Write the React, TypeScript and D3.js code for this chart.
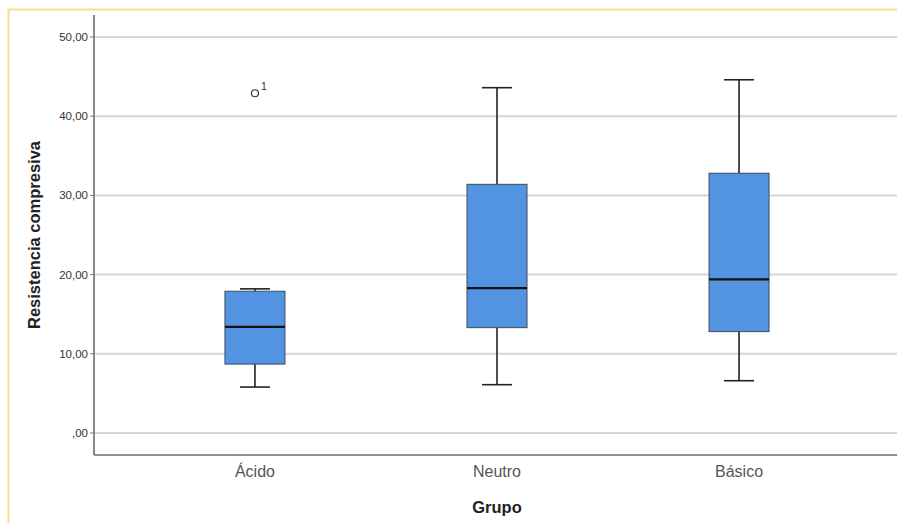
import React from "react";
import * as d3 from "d3";

const groups = ["Ácido", "Neutro", "Básico"];
// min, q1, median, q3, max (whisker ends)
const mins = [5.8, 6.1, 6.6];
const q1s = [8.7, 13.3, 12.8];
const medians = [13.4, 18.3, 19.4];
const q3s = [17.9, 31.4, 32.8];
const maxs = [18.2, 43.6, 44.6];
const outliers = [{ group: "Ácido", value: 42.9, label: "1" }];
const yTicks = [0, 10, 20, 30, 40, 50];

const fmt = (v: number) => (v === 0 ? ",00" : v.toFixed(2).replace(".", ","));

const BoxPlot = () => {
  const width = 897;
  const height = 523;
  const left = 94;
  const axisY = 455;

  const x = d3.scalePoint<string>().domain(groups).range([left, 900]).padding(0.665);
  const y = d3.scaleLinear().domain([0, 50]).range([433, 37]);

  const boxW = 60;
  const capW = 30;

  return (
    <svg width={width} height={height} style={{ display: "block", position: "absolute", left: 0, top: 0 }}>
      <rect x={0} y={0} width={width} height={height} fill="#fff" />
      {/* frame */}
      <line x1={8.5} y1={9} x2={8.5} y2={height} stroke="#f7e08a" strokeWidth={2} />
      <line x1={8} y1={9.5} x2={width} y2={9.5} stroke="#f7e08a" strokeWidth={2} />

      {/* grid */}
      {yTicks.map((t) => (
        <g key={t}>
          <line x1={left} x2={width} y1={y(t)} y2={y(t)} stroke="#d6d6d6" strokeWidth={2} />
          <line x1={left - 4} x2={left} y1={y(t)} y2={y(t)} stroke="#777" strokeWidth={1} />
          <text
            x={left - 6}
            y={y(t)}
            dy="0.35em"
            textAnchor="end"
            fontFamily="Arial, 'Liberation Sans', sans-serif"
            fontSize={11.5}
            fill="#333"
          >
            {fmt(t)}
          </text>
        </g>
      ))}

      {/* axes */}
      <line x1={left} x2={left} y1={15} y2={axisY} stroke="#6b6b6b" strokeWidth={1.6} />
      <line x1={left} x2={width} y1={axisY} y2={axisY} stroke="#6b6b6b" strokeWidth={1.6} />

      {/* boxes */}
      {groups.map((g, i) => {
        const cx = x(g)!;
        return (
          <g key={g}>
            <line x1={cx} x2={cx} y1={y(maxs[i])} y2={y(q3s[i])} stroke="#222" strokeWidth={1.6} />
            <line x1={cx} x2={cx} y1={y(q1s[i])} y2={y(mins[i])} stroke="#222" strokeWidth={1.6} />
            <line x1={cx - capW / 2} x2={cx + capW / 2} y1={y(maxs[i])} y2={y(maxs[i])} stroke="#222" strokeWidth={1.6} />
            <line x1={cx - capW / 2} x2={cx + capW / 2} y1={y(mins[i])} y2={y(mins[i])} stroke="#222" strokeWidth={1.6} />
            <rect
              x={cx - boxW / 2}
              y={y(q3s[i])}
              width={boxW}
              height={y(q1s[i]) - y(q3s[i])}
              fill="#5294e2"
              stroke="#3f4a5a"
              strokeWidth={1}
            />
            <line
              x1={cx - boxW / 2}
              x2={cx + boxW / 2}
              y1={y(medians[i])}
              y2={y(medians[i])}
              stroke="#111"
              strokeWidth={2.2}
            />
            <text
              x={cx}
              y={477}
              textAnchor="middle"
              fontFamily="Arial, 'Liberation Sans', sans-serif"
              fontSize={16}
              fill="#555"
            >
              {g}
            </text>
          </g>
        );
      })}

      {/* outliers */}
      {outliers.map((o, i) => (
        <g key={i}>
          <circle cx={x(o.group)!} cy={y(o.value)} r={3.5} fill="none" stroke="#333" strokeWidth={1.2} />
          <text
            x={x(o.group)! + 6}
            y={y(o.value) - 3}
            fontFamily="Arial, 'Liberation Sans', sans-serif"
            fontSize={10.5}
            fill="#333"
          >
            {o.label}
          </text>
        </g>
      ))}

      {/* axis titles */}
      <text
        x={497}
        y={513}
        textAnchor="middle"
        fontFamily="Arial, 'Liberation Sans', sans-serif"
        fontSize={16.5}
        fontWeight="bold"
        fill="#222"
      >
        Grupo
      </text>
      <text
        transform="translate(40,235) rotate(-90)"
        textAnchor="middle"
        fontFamily="Arial, 'Liberation Sans', sans-serif"
        fontSize={16.5}
        fontWeight="bold"
        fill="#222"
      >
        Resistencia compresiva
      </text>
    </svg>
  );
};

export default function App() {
  return <BoxPlot />;
}
